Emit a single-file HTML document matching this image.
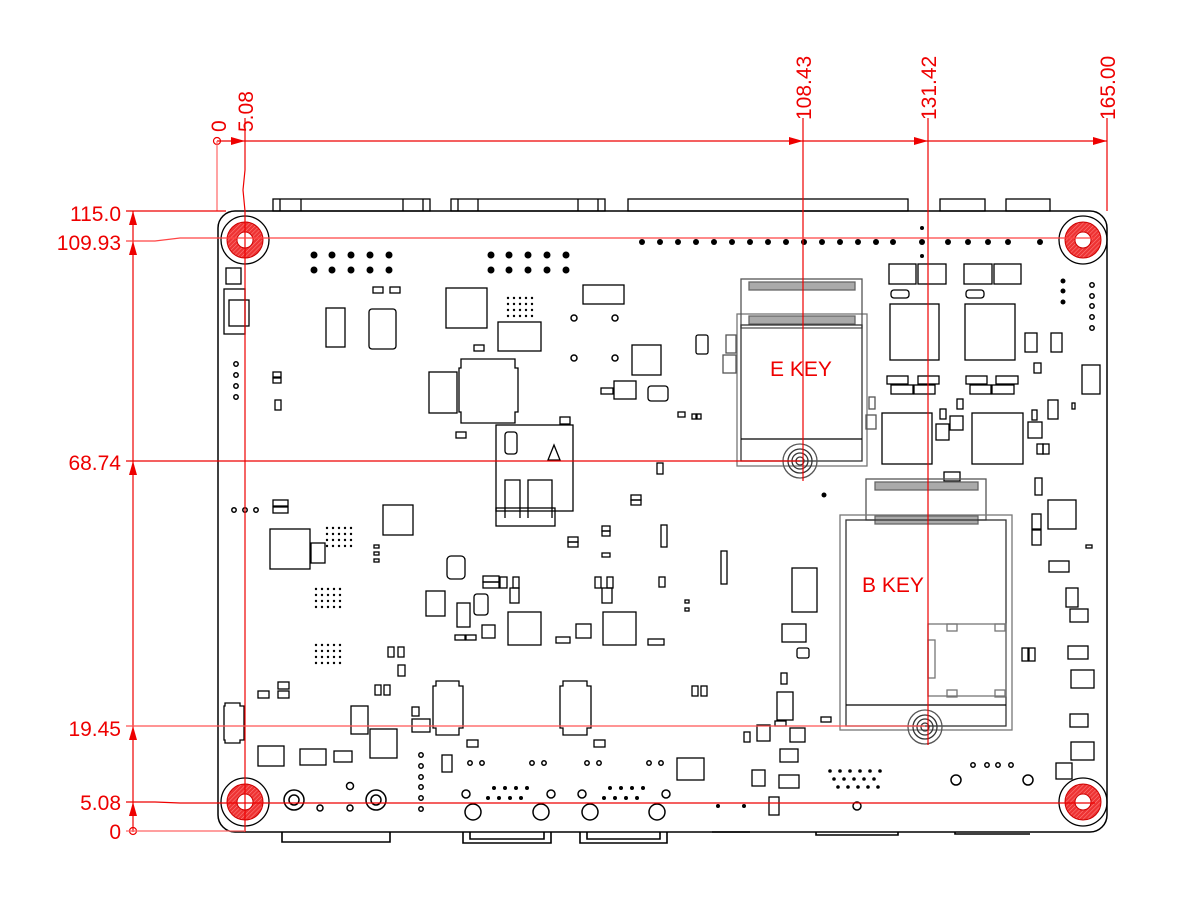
<!DOCTYPE html>
<html><head><meta charset="utf-8"><style>
html,body{margin:0;padding:0;background:#fff;}
svg{display:block;}
text{font-family:"Liberation Sans",sans-serif;}
</style></head><body>
<svg width="1200" height="900" viewBox="0 0 1200 900" xmlns="http://www.w3.org/2000/svg">
<defs>
<pattern id="hatch" width="3" height="3" patternUnits="userSpaceOnUse" patternTransform="rotate(45)">
<rect width="3" height="3" fill="#e33"/><line x1="0" y1="0" x2="0" y2="3" stroke="#f88" stroke-width="1"/>
</pattern>
<g id="mh">
<circle r="24" fill="none" stroke="#000" stroke-width="1.3"/>
<circle r="18" fill="url(#hatch)" stroke="#c00" stroke-width="1"/>
<circle r="8" fill="#fff" stroke="#c00" stroke-width="1"/>
</g>
<g id="so">
<circle r="17" fill="none" stroke="#555" stroke-width="1.3"/>
<circle r="12" fill="none" stroke="#333" stroke-width="1.3"/>
<circle r="8" fill="none" stroke="#333" stroke-width="1.3"/>
<circle r="4" fill="none" stroke="#333" stroke-width="1.3"/>
</g>
<g id="bga" fill="#000"><circle cx="0" cy="0" r="1.2"/><circle cx="6" cy="0" r="1.2"/><circle cx="12" cy="0" r="1.2"/><circle cx="18" cy="0" r="1.2"/><circle cx="24" cy="0" r="1.2"/>
<circle cx="0" cy="6" r="1.2"/><circle cx="6" cy="6" r="1.2"/><circle cx="12" cy="6" r="1.2"/><circle cx="18" cy="6" r="1.2"/><circle cx="24" cy="6" r="1.2"/>
<circle cx="0" cy="12" r="1.2"/><circle cx="6" cy="12" r="1.2"/><circle cx="12" cy="12" r="1.2"/><circle cx="18" cy="12" r="1.2"/><circle cx="24" cy="12" r="1.2"/>
<circle cx="0" cy="18" r="1.2"/><circle cx="6" cy="18" r="1.2"/><circle cx="12" cy="18" r="1.2"/><circle cx="18" cy="18" r="1.2"/><circle cx="24" cy="18" r="1.2"/></g>
</defs>

<!-- top connectors above board -->
<g fill="none" stroke="#000" stroke-width="1.3">
<rect x="273" y="199" width="157" height="12"/><line x1="280" y1="199" x2="280" y2="211"/><line x1="301" y1="199" x2="301" y2="211"/><line x1="403" y1="199" x2="403" y2="211"/><line x1="423" y1="199" x2="423" y2="211"/>
<rect x="451" y="199" width="154" height="12"/><line x1="458" y1="199" x2="458" y2="211"/><line x1="478" y1="199" x2="478" y2="211"/><line x1="578" y1="199" x2="578" y2="211"/><line x1="598" y1="199" x2="598" y2="211"/>
<rect x="628" y="199" width="280" height="12"/>
<rect x="940" y="199" width="45" height="12"/>
<rect x="1006" y="199" width="44" height="12"/>
</g>

<!-- board outline -->
<rect x="218" y="211" width="889" height="621" rx="17" fill="none" stroke="#000" stroke-width="1.5"/>

<!-- bottom connectors below board -->
<g fill="none" stroke="#000" stroke-width="1.6">
<path d="M282 832 V842 H390 V832"/>
<path d="M463 832 V843 H551 V832"/><path d="M470 832 V839 H544 V832"/>
<path d="M580 832 V843 H667 V832"/><path d="M587 832 V839 H660 V832"/>
<path d="M712 832 H750"/><path d="M816 832 V835 H898 V832"/><path d="M955 832 V834 H1030"/>
</g>

<!-- dots rows -->
<g fill="#000">
<g id="pinsA">
<circle cx="314" cy="255" r="3.5"/><circle cx="332" cy="255" r="3.5"/><circle cx="351" cy="255" r="3.5"/><circle cx="370" cy="255" r="3.5"/><circle cx="389" cy="255" r="3.5"/>
<circle cx="314" cy="270" r="3.5"/><circle cx="332" cy="270" r="3.5"/><circle cx="351" cy="270" r="3.5"/><circle cx="370" cy="270" r="3.5"/><circle cx="389" cy="270" r="3.5"/>
</g>
<use href="#pinsA" x="177"/>
<circle cx="642" cy="242" r="3"/><circle cx="660" cy="242" r="3"/><circle cx="678" cy="242" r="3"/><circle cx="696" cy="242" r="3"/><circle cx="714" cy="242" r="3"/><circle cx="732" cy="242" r="3"/><circle cx="750" cy="242" r="3"/><circle cx="768" cy="242" r="3"/><circle cx="786" cy="242" r="3"/><circle cx="804" cy="242" r="3"/><circle cx="822" cy="242" r="3"/><circle cx="840" cy="242" r="3"/><circle cx="858" cy="242" r="3"/><circle cx="876" cy="242" r="3"/><circle cx="893" cy="242" r="3"/>
<circle cx="922" cy="228" r="2"/><circle cx="922" cy="242" r="3"/><circle cx="922" cy="256" r="2"/>
<circle cx="948" cy="242" r="3"/><circle cx="968" cy="242" r="3"/><circle cx="988" cy="242" r="3"/><circle cx="1008" cy="242" r="3"/><circle cx="1040" cy="242" r="3"/>
<circle cx="1063" cy="281" r="2.5"/><circle cx="1063" cy="291" r="2.5"/><circle cx="1063" cy="302" r="2.5"/>
<circle cx="824" cy="495" r="2.5"/>
</g>
<g fill="none" stroke="#000" stroke-width="1.5">
<circle cx="1092" cy="285" r="2.2"/><circle cx="1092" cy="296" r="2.2"/><circle cx="1092" cy="306" r="2.2"/><circle cx="1092" cy="317" r="2.2"/><circle cx="1092" cy="328" r="2.2"/>
<circle cx="236" cy="364" r="2.2"/><circle cx="236" cy="375" r="2.2"/><circle cx="236" cy="386" r="2.2"/><circle cx="236" cy="397" r="2.2"/>
<circle cx="234" cy="510" r="2.2"/><circle cx="245" cy="510" r="2.2"/><circle cx="256" cy="510" r="2.2"/>
<circle cx="574" cy="318" r="3"/><circle cx="574" cy="358" r="3"/><circle cx="615" cy="318" r="3"/><circle cx="615" cy="358" r="3"/>
<circle cx="421" cy="755" r="2.2"/><circle cx="421" cy="766" r="2.2"/><circle cx="421" cy="777" r="2.2"/><circle cx="421" cy="787" r="2.2"/><circle cx="421" cy="798" r="2.2"/><circle cx="421" cy="809" r="2.2"/>
<circle cx="470" cy="763" r="2.2"/><circle cx="482" cy="763" r="2.2"/><circle cx="532" cy="763" r="2.2"/><circle cx="544" cy="763" r="2.2"/>
<circle cx="587" cy="763" r="2.2"/><circle cx="599" cy="763" r="2.2"/><circle cx="649" cy="763" r="2.2"/><circle cx="661" cy="763" r="2.2"/>
<circle cx="973" cy="765" r="2.2"/><circle cx="987" cy="765" r="2.2"/><circle cx="998" cy="765" r="2.2"/><circle cx="1011" cy="765" r="2.2"/>
<circle cx="350" cy="786" r="3.5"/><circle cx="857" cy="806" r="4"/>
<circle cx="294" cy="800" r="10"/><circle cx="294" cy="800" r="5"/>
<circle cx="376" cy="800" r="10"/><circle cx="376" cy="800" r="5"/>
<circle cx="473" cy="812" r="8"/><circle cx="541" cy="812" r="8"/><circle cx="590" cy="812" r="8"/><circle cx="657" cy="812" r="8"/>
<circle cx="466" cy="794" r="4"/><circle cx="551" cy="794" r="4"/><circle cx="582" cy="794" r="4"/><circle cx="666" cy="794" r="4"/>
<circle cx="956" cy="780" r="5"/><circle cx="1028" cy="780" r="5"/>
<circle cx="320" cy="808" r="3"/><circle cx="350" cy="808" r="3"/>
</g>
<!-- DB connector pin dots -->
<g fill="#000">
<circle cx="494" cy="788" r="2"/><circle cx="505" cy="788" r="2"/><circle cx="516" cy="788" r="2"/><circle cx="527" cy="788" r="2"/>
<circle cx="488" cy="798" r="2"/><circle cx="499" cy="798" r="2"/><circle cx="510" cy="798" r="2"/><circle cx="521" cy="798" r="2"/>
<circle cx="610" cy="788" r="2"/><circle cx="621" cy="788" r="2"/><circle cx="632" cy="788" r="2"/><circle cx="643" cy="788" r="2"/>
<circle cx="604" cy="798" r="2"/><circle cx="615" cy="798" r="2"/><circle cx="626" cy="798" r="2"/><circle cx="637" cy="798" r="2"/>
<circle cx="830" cy="771" r="1.8"/><circle cx="840" cy="771" r="1.8"/><circle cx="850" cy="771" r="1.8"/><circle cx="860" cy="771" r="1.8"/><circle cx="870" cy="771" r="1.8"/><circle cx="880" cy="771" r="1.8"/>
<circle cx="834" cy="779" r="1.8"/><circle cx="844" cy="779" r="1.8"/><circle cx="854" cy="779" r="1.8"/><circle cx="864" cy="779" r="1.8"/><circle cx="874" cy="779" r="1.8"/>
<circle cx="838" cy="787" r="1.8"/><circle cx="848" cy="787" r="1.8"/><circle cx="858" cy="787" r="1.8"/><circle cx="868" cy="787" r="1.8"/><circle cx="878" cy="787" r="1.8"/>
<circle cx="718" cy="806" r="2"/><circle cx="744" cy="806" r="2"/>
</g>
<use href="#bga" x="327" y="528"/><use href="#bga" x="316" y="589"/><use href="#bga" x="316" y="645"/><use href="#bga" x="508" y="298"/>

<!-- components -->
<g fill="none" stroke="#000" stroke-width="1.3">
<rect x="226" y="268" width="15" height="16"/>
<rect x="224" y="289" width="21" height="45"/><rect x="229" y="300" width="20" height="26"/>
<rect x="326" y="308" width="19" height="39"/><rect x="369" y="309" width="27" height="40" rx="3"/>
<rect x="373" y="287" width="10" height="6"/><rect x="390" y="287" width="10" height="6"/>
<rect x="273" y="372" width="8" height="5"/><rect x="273" y="378" width="8" height="5"/><rect x="275" y="400" width="6" height="10"/>
<rect x="446" y="288" width="41" height="40"/><rect x="498" y="322" width="43" height="29"/>
<path d="M461 359 H515 V368 H518 V412 H515 V423 H461 V412 H459 V368 H461 Z"/>
<rect x="429" y="372" width="28" height="41"/>
<rect x="474" y="345" width="10" height="6"/><rect x="456" y="432" width="10" height="6"/>
<rect x="583" y="285" width="41" height="19"/>
<rect x="632" y="345" width="29" height="30"/>
<rect x="614" y="381" width="22" height="18"/><rect x="601" y="388" width="12" height="6"/>
<rect x="648" y="386" width="20" height="15" rx="3"/>
<rect x="696" y="335" width="12" height="19" rx="2"/>
<rect x="678" y="412" width="7" height="5"/><rect x="692" y="414" width="4" height="5"/><rect x="697" y="414" width="4" height="5"/>
<rect x="496" y="425" width="77" height="86"/><rect x="496" y="508" width="59" height="18"/>
<rect x="560" y="417" width="10" height="7"/>
<path d="M505 518 V480 H520 V518 M528 518 V480 H552 V518"/>
<rect x="505" y="432" width="12" height="22" rx="3"/>
<path d="M554 445 L560 460 H548 Z"/>
<rect x="383" y="505" width="30" height="30"/>
<rect x="270" y="529" width="40" height="40"/><rect x="311" y="543" width="14" height="20"/>
<rect x="273" y="500" width="15" height="6"/><rect x="273" y="507" width="15" height="6"/>
<rect x="374" y="545" width="5" height="3"/><rect x="374" y="552" width="5" height="3"/><rect x="374" y="559" width="5" height="3"/>
<rect x="447" y="556" width="18" height="23" rx="4"/>
<rect x="426" y="591" width="19" height="25"/><rect x="457" y="603" width="13" height="24"/><rect x="474" y="594" width="14" height="21" rx="3"/>
<rect x="483" y="576" width="16" height="6"/><rect x="483" y="582" width="16" height="6"/><rect x="500" y="577" width="7" height="11"/><rect x="513" y="577" width="6" height="11"/>
<rect x="510" y="588" width="9" height="15"/>
<rect x="455" y="635" width="10" height="5"/><rect x="466" y="635" width="10" height="5"/>
<rect x="482" y="625" width="13" height="13"/>
<rect x="508" y="612" width="33" height="33"/><rect x="556" y="637" width="14" height="6"/>
<rect x="603" y="612" width="33" height="33"/><rect x="648" y="639" width="16" height="6"/>
<rect x="576" y="624" width="15" height="14"/>
<rect x="568" y="537" width="10" height="5"/><rect x="568" y="542" width="10" height="5"/>
<rect x="602" y="526" width="8" height="5"/><rect x="602" y="531" width="8" height="5"/>
<rect x="602" y="553" width="8" height="4"/>
<rect x="595" y="577" width="6" height="11"/><rect x="607" y="577" width="6" height="11"/><rect x="602" y="588" width="10" height="15"/>
<rect x="631" y="495" width="10" height="5"/><rect x="631" y="500" width="10" height="5"/>
<rect x="657" y="463" width="6" height="11"/><rect x="661" y="525" width="6" height="22"/>
<rect x="659" y="577" width="6" height="10"/>
<rect x="721" y="551" width="6" height="33"/>
<rect x="685" y="600" width="4" height="3"/><rect x="685" y="608" width="4" height="3"/>
<rect x="792" y="568" width="25" height="44"/>
<rect x="782" y="624" width="24" height="18"/><rect x="797" y="648" width="12" height="10" rx="2"/>
<rect x="781" y="673" width="6" height="11"/><rect x="777" y="692" width="16" height="28"/>
<rect x="775" y="721" width="11" height="5"/><rect x="821" y="717" width="10" height="5"/>
<rect x="790" y="728" width="15" height="14"/><rect x="757" y="725" width="13" height="16"/><rect x="744" y="732" width="6" height="10"/>
<rect x="780" y="749" width="18" height="13"/><rect x="752" y="770" width="13" height="16"/><rect x="779" y="775" width="20" height="13"/><rect x="769" y="797" width="10" height="18"/>
<rect x="677" y="758" width="27" height="22"/>
<rect x="692" y="686" width="6" height="10"/><rect x="701" y="686" width="6" height="10"/>
<path d="M436 686 V681 H459 V686 H463 V728 H459 V735 H436 V728 H433 V686 Z"/>
<path d="M563 686 V681 H587 V686 H591 V728 H587 V735 H563 V728 H560 V686 Z"/>
<rect x="467" y="740" width="11" height="7"/><rect x="594" y="740" width="11" height="7"/>
<rect x="442" y="755" width="10" height="17"/>
<rect x="388" y="647" width="6" height="10"/><rect x="398" y="647" width="6" height="10"/><rect x="398" y="665" width="7" height="11"/>
<rect x="375" y="685" width="6" height="10"/><rect x="384" y="685" width="6" height="10"/>
<rect x="258" y="691" width="11" height="7"/><rect x="278" y="682" width="11" height="7"/><rect x="278" y="691" width="11" height="7"/>
<rect x="351" y="706" width="17" height="28"/><rect x="370" y="729" width="27" height="29"/>
<rect x="412" y="707" width="7" height="9"/><rect x="412" y="719" width="18" height="13"/>
<path d="M225 706 V703 H240 V706 H244 V740 H240 V743 H225 V740 H224 V706Z"/>
<rect x="258" y="746" width="26" height="20"/><rect x="300" y="749" width="26" height="16"/><rect x="334" y="751" width="18" height="11"/>
<rect x="889" y="264" width="27" height="20"/><rect x="918" y="264" width="28" height="20"/><rect x="964" y="264" width="28" height="20"/><rect x="994" y="264" width="27" height="20"/>
<rect x="891" y="290" width="18" height="8" rx="3"/><rect x="966" y="290" width="18" height="8" rx="3"/>
<rect x="890" y="304" width="49" height="56"/><rect x="965" y="304" width="50" height="56"/>
<rect x="887" y="376" width="21" height="8"/><rect x="918" y="376" width="21" height="8"/><rect x="891" y="385" width="22" height="9"/><rect x="914" y="385" width="21" height="9"/>
<rect x="966" y="376" width="21" height="8"/><rect x="996" y="376" width="22" height="8"/><rect x="970" y="385" width="21" height="9"/><rect x="992" y="385" width="22" height="9"/>
<rect x="882" y="413" width="50" height="51"/><rect x="972" y="413" width="51" height="51"/>
<rect x="940" y="409" width="6" height="10"/><rect x="957" y="399" width="6" height="10"/>
<rect x="936" y="424" width="13" height="16"/><rect x="950" y="416" width="13" height="14"/>
<rect x="944" y="472" width="16" height="9"/>
<rect x="1025" y="333" width="12" height="19"/><rect x="1051" y="333" width="11" height="19"/><rect x="1034" y="363" width="7" height="10"/>
<rect x="1082" y="365" width="18" height="29"/><rect x="1048" y="400" width="10" height="19"/><rect x="1072" y="403" width="3" height="6"/>
<rect x="1032" y="410" width="5" height="10"/><rect x="1028" y="422" width="14" height="16"/><rect x="1037" y="444" width="6" height="10"/><rect x="1043" y="444" width="6" height="10"/>
<rect x="1035" y="478" width="7" height="17"/><rect x="1048" y="500" width="28" height="29"/><rect x="1032" y="514" width="9" height="15"/><rect x="1032" y="530" width="9" height="15"/>
<rect x="1086" y="545" width="6" height="3"/>
<rect x="1049" y="561" width="20" height="11"/><rect x="1066" y="588" width="12" height="19"/><rect x="1070" y="609" width="18" height="13"/>
<rect x="1022" y="648" width="6" height="13"/><rect x="1029" y="648" width="6" height="13"/>
<rect x="1068" y="646" width="20" height="13"/><rect x="1071" y="670" width="23" height="18"/>
<rect x="1070" y="714" width="18" height="13"/><rect x="1071" y="742" width="23" height="18"/><rect x="1056" y="763" width="16" height="16"/>
<rect x="737" y="314" width="130" height="152" stroke="#777"/>
<rect x="741" y="279" width="121" height="49" stroke="#555"/>
<rect x="749" y="282" width="106" height="8" fill="#aaa" stroke="#666"/>
<rect x="749" y="316" width="106" height="8" fill="#aaa" stroke="#666"/>
<rect x="741" y="325" width="121" height="136" stroke="#333"/>
<line x1="741" y1="439" x2="862" y2="439"/>
<rect x="726" y="335" width="10" height="18" stroke="#555"/><rect x="723" y="355" width="13" height="18" stroke="#555"/>
<rect x="869" y="397" width="6" height="12" stroke="#555"/><rect x="866" y="415" width="10" height="14" stroke="#555"/>
<rect x="866" y="479" width="120" height="41" stroke="#555"/>
<rect x="875" y="482" width="103" height="8" fill="#aaa" stroke="#666"/>
<rect x="875" y="516" width="103" height="8" fill="#aaa" stroke="#666"/>
<rect x="840" y="515" width="172" height="215" stroke="#777"/>
<rect x="846" y="520" width="160" height="206" stroke="#333"/>
<line x1="846" y1="705" x2="1006" y2="705"/>
<rect x="928" y="624" width="78" height="72" stroke="#777"/>
<rect x="947" y="624" width="10" height="7" stroke="#777"/><rect x="995" y="624" width="10" height="7" stroke="#777"/>
<rect x="947" y="690" width="10" height="7" stroke="#777"/><rect x="995" y="690" width="10" height="7" stroke="#777"/>
<rect x="928" y="640" width="7" height="38" stroke="#777"/>
</g>
<use href="#so" x="800" y="461"/>
<use href="#so" x="925" y="727"/>

<use href="#mh" x="245" y="240"/><use href="#mh" x="1083" y="240"/>
<use href="#mh" x="245" y="802"/><use href="#mh" x="1083" y="802"/>

<g stroke="#e00" stroke-width="1.2" fill="none">
<line x1="217" y1="141" x2="1107" y2="141"/>
<circle cx="217" cy="141" r="3.5"/>
<line x1="217" y1="141" x2="217" y2="211" stroke="#f66"/>
<path d="M245 141 L245 170 L243 190 L245 211 L245 832"/>
<line x1="803" y1="118" x2="803" y2="481"/>
<line x1="928" y1="118" x2="928" y2="745"/>
<line x1="1107" y1="118" x2="1107" y2="211"/>
<line x1="245" y1="118" x2="245" y2="141"/>
<line x1="133" y1="211" x2="133" y2="832"/>
<circle cx="133" cy="831" r="3.5"/>
<line x1="126" y1="211" x2="226" y2="211"/>
<path d="M126 241 L155 241 L180 238 L1095 238" stroke="#f44"/>
<line x1="126" y1="461" x2="800" y2="461"/>
<line x1="126" y1="726" x2="925" y2="726" stroke="#f55"/>
<path d="M126 802 L155 802 L180 803 L1095 803"/>
<line x1="126" y1="831" x2="245" y2="831" stroke="#f66"/>
</g>
<g fill="#e00">
<path d="M245 141 l-14 -4 v8 z"/><path d="M803 141 l-14 -4 v8 z"/><path d="M928 141 l-14 -4 v8 z"/><path d="M1107 141 l-14 -4 v8 z"/>
<path d="M133 211 l-4 14 h8 z"/><path d="M133 241 l-4 14 h8 z"/><path d="M133 461 l-4 14 h8 z"/><path d="M133 726 l-4 14 h8 z"/><path d="M133 802 l-4 14 h8 z"/>
</g>
<g fill="#e00" font-size="21">
<text transform="translate(226,132) rotate(-90)">0</text>
<text transform="translate(253,132) rotate(-90)">5.08</text>
<text transform="translate(811,120) rotate(-90)">108.43</text>
<text transform="translate(936,120) rotate(-90)">131.42</text>
<text transform="translate(1115,120) rotate(-90)">165.00</text>
<text x="121" y="221" text-anchor="end">115.0</text>
<text x="121" y="250" text-anchor="end">109.93</text>
<text x="121" y="470" text-anchor="end">68.74</text>
<text x="121" y="736" text-anchor="end">19.45</text>
<text x="121" y="810" text-anchor="end">5.08</text>
<text x="121" y="839" text-anchor="end">0</text>
<text x="770" y="376">E KEY</text>
<text x="862" y="592">B KEY</text>
</g>
</svg>
</body></html>
